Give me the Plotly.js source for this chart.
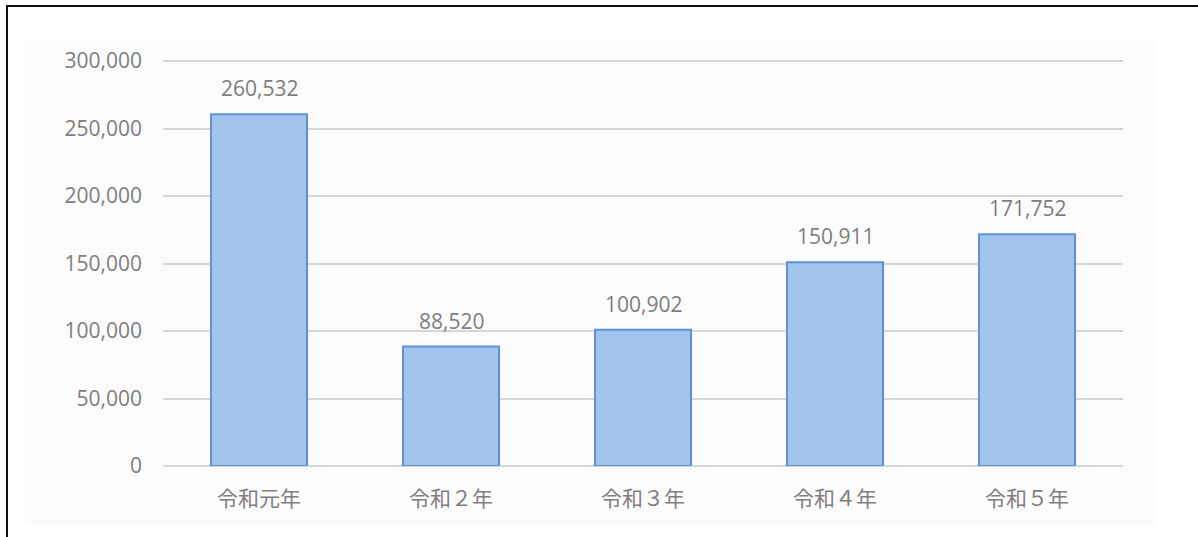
<!DOCTYPE html>
<html>
<head>
<meta charset="utf-8">
<script src="https://cdn.plot.ly/plotly-3.0.1.min.js"></script>
<style>
  html, body { margin: 0; padding: 0; background: #ffffff; }
  #chart { width: 1198px; height: 537px; }
  #frame { position: absolute; left: 6px; top: 5px; width: 1192px; height: 532px;
           border-left: 2px solid #111; border-top: 2px solid #111; pointer-events: none; }
</style>
</head>
<body>
<div id="chart"></div>
<div id="frame"></div>
<script>
const categories = ["令和元年", "令和２年", "令和３年", "令和４年", "令和５年"];
const values = [260532, 88520, 100902, 150911, 171752];
const tickValues = [0, 50000, 100000, 150000, 200000, 250000, 300000];
const tickLabels = ["0", "50,000", "100,000", "150,000", "200,000", "250,000", "300,000"];

const textColor = "#7e7e7e";
const numFont = "'Open Sans', 'Noto Sans', sans-serif";
const cjkFont = "'Noto Sans CJK JP', sans-serif";

const trace = {
  type: "bar",
  x: categories,
  y: values,
  marker: { color: "#a3c2ec", line: { color: "#5b93d6", width: 2 } },
  hoverinfo: "none"
};

const annotations = categories.map((c, i) => ({
  x: c, y: values[i], xref: "x", yref: "y",
  text: values[i].toLocaleString("en-US"),
  showarrow: false, yanchor: "bottom", yshift: 10,
  font: { family: numFont, size: 21, color: textColor }
}));

const layout = {
  width: 1198, height: 537,
  margin: { l: 163, r: 75, t: 60, b: 71 },
  paper_bgcolor: "#ffffff",
  plot_bgcolor: "rgba(0,0,0,0)",
  bargap: 0.5,
  showlegend: false,
  xaxis: {
    type: "category",
    tickfont: { family: cjkFont, size: 21, color: textColor },
    showgrid: false, zeroline: false, showline: false,
    ticks: "", ticklen: 0, ticklabelstandoff: 18
  },
  yaxis: {
    range: [0, 300800],
    tickvals: tickValues, ticktext: tickLabels,
    tickfont: { family: numFont, size: 21, color: textColor },
    showgrid: true, gridcolor: "#d6d6d6", gridwidth: 2,
    zeroline: true, zerolinecolor: "#d6d6d6", zerolinewidth: 2,
    showline: false, ticks: "", ticklabelstandoff: 20
  },
  annotations: annotations,
  shapes: [{
    type: "rect", xref: "paper", yref: "paper", layer: "below",
    x0: (25 - 163) / 960, x1: (1155 - 163) / 960,
    y0: (537 - 71 - 525) / 406, y1: (537 - 71 - 40) / 406,
    fillcolor: "#fbfbfb", line: { width: 0 }
  }]
};

Plotly.newPlot("chart", [trace], layout, { displayModeBar: false, staticPlot: true });
</script>
</body>
</html>
